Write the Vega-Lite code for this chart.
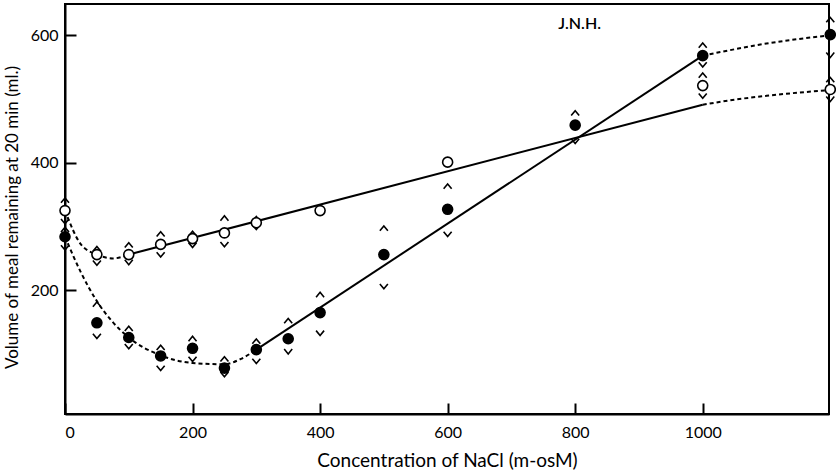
{
  "$schema": "https://vega.github.io/schema/vega-lite/v6.json",
  "width": 764,
  "height": 410,
  "autosize": "none",
  "padding": {"left": 65, "top": 4, "right": 7, "bottom": 57},
  "background": "white",
  "config": {
    "view": {"stroke": "black", "strokeWidth": 2},
    "font": "Lato",
    "axis": {
      "grid": false,
      "domainColor": "black",
      "domainWidth": 2,
      "tickColor": "black",
      "tickWidth": 2,
      "tickSize": -11,
      "labelColor": "black",
      "labelFont": "Lato",
      "labelFontSize": 16,
      "titleColor": "black",
      "titleFont": "Lato",
      "titleFontSize": 18,
      "titleFontWeight": "normal"
    }
  },
  "datasets": {
    "points": [
      {"series": "open", "x": 0, "y": 325, "hi": 341, "lo": 308},
      {"series": "open", "x": 50, "y": 256, "hi": 265, "lo": 243},
      {"series": "open", "x": 100, "y": 256, "hi": 271, "lo": 244},
      {"series": "open", "x": 150, "y": 272, "hi": 288, "lo": 256},
      {"series": "open", "x": 200, "y": 281, "hi": 289, "lo": 271},
      {"series": "open", "x": 250, "y": 290, "hi": 313, "lo": 272},
      {"series": "open", "x": 300, "y": 306, "hi": 312, "lo": 299},
      {"series": "open", "x": 400, "y": 325, "hi": null, "lo": null},
      {"series": "open", "x": 600, "y": 401, "hi": null, "lo": null},
      {"series": "open", "x": 1000, "y": 521, "hi": 537, "lo": 505},
      {"series": "open", "x": 1200, "y": 515, "hi": 530, "lo": 500},
      {"series": "filled", "x": 0, "y": 284, "hi": 295, "lo": 267},
      {"series": "filled", "x": 50, "y": 149, "hi": 178, "lo": 128},
      {"series": "filled", "x": 100, "y": 126, "hi": 140, "lo": 112},
      {"series": "filled", "x": 150, "y": 97, "hi": 110, "lo": 78},
      {"series": "filled", "x": 200, "y": 109, "hi": 124, "lo": 92},
      {"series": "filled", "x": 250, "y": 78, "hi": 92, "lo": 68},
      {"series": "filled", "x": 300, "y": 107, "hi": 120, "lo": 89},
      {"series": "filled", "x": 350, "y": 124, "hi": 152, "lo": 104},
      {"series": "filled", "x": 400, "y": 165, "hi": 193, "lo": 133},
      {"series": "filled", "x": 500, "y": 256, "hi": 297, "lo": 206},
      {"series": "filled", "x": 600, "y": 327, "hi": 363, "lo": 288},
      {"series": "filled", "x": 800, "y": 459, "hi": 478, "lo": 434},
      {"series": "filled", "x": 1000, "y": 568, "hi": 584, "lo": 554},
      {"series": "filled", "x": 1200, "y": 601, "hi": 624, "lo": 569}
    ],
    "solid": [
      {"seg": "open", "x": 100, "y": 256},
      {"seg": "open", "x": 1000, "y": 491},
      {"seg": "filled", "x": 300, "y": 107},
      {"seg": "filled", "x": 1000, "y": 568}
    ],
    "dashed": [
      {"seg": "openA", "x": 0, "y": 325},
      {"seg": "openA", "x": 25, "y": 272},
      {"seg": "openA", "x": 50, "y": 256},
      {"seg": "openA", "x": 75, "y": 250},
      {"seg": "openA", "x": 100, "y": 256},
      {"seg": "openB", "x": 1000, "y": 491},
      {"seg": "openB", "x": 1050, "y": 499},
      {"seg": "openB", "x": 1100, "y": 505},
      {"seg": "openB", "x": 1150, "y": 510},
      {"seg": "openB", "x": 1200, "y": 514},
      {"seg": "filledA", "x": 0, "y": 284},
      {"seg": "filledA", "x": 25, "y": 228},
      {"seg": "filledA", "x": 50, "y": 183},
      {"seg": "filledA", "x": 75, "y": 150},
      {"seg": "filledA", "x": 100, "y": 126},
      {"seg": "filledA", "x": 150, "y": 98},
      {"seg": "filledA", "x": 200, "y": 86},
      {"seg": "filledA", "x": 250, "y": 84},
      {"seg": "filledA", "x": 275, "y": 92},
      {"seg": "filledA", "x": 300, "y": 107},
      {"seg": "filledB", "x": 1000, "y": 568},
      {"seg": "filledB", "x": 1050, "y": 578},
      {"seg": "filledB", "x": 1100, "y": 587},
      {"seg": "filledB", "x": 1150, "y": 594},
      {"seg": "filledB", "x": 1200, "y": 600}
    ],
    "notes": [
      {"label": "J.N.H.", "x": 807, "y": 617}
    ]
  },
  "encoding": {
    "x": {
      "field": "x",
      "type": "quantitative",
      "scale": {"domain": [0, 1198], "nice": false, "zero": false},
      "axis": {
        "values": [0, 200, 400, 600, 800, 1000],
        "format": "d",
        "title": "Concentration of NaCl (m-osM)",
        "titleFontSize": 19,
        "labelPadding": 21,
        "titleY": 46,
        "titleBaseline": "middle"
      }
    }
  },
  "layer": [
    {
      "data": {"name": "solid"},
      "mark": {"type": "line", "color": "black", "strokeWidth": 2},
      "encoding": {
        "y": {
          "field": "y",
          "type": "quantitative",
          "scale": {"domain": [6, 649], "nice": false, "zero": false},
          "axis": {
            "values": [200, 400, 600],
            "title": "Volume of meal remaining at 20 min (ml.)",
            "titleFontSize": 17,
            "labelPadding": 18,
            "titleX": -53,
            "titleY": 213,
            "titleBaseline": "middle",
            "titleAngle": -90
          }
        },
        "detail": {"field": "seg"}
      }
    },
    {
      "data": {"name": "dashed"},
      "mark": {"type": "line", "color": "black", "strokeWidth": 2, "strokeDash": [4, 3], "interpolate": "monotone"},
      "encoding": {
        "y": {"field": "y", "type": "quantitative"},
        "detail": {"field": "seg"}
      }
    },
    {
      "data": {"name": "points"},
      "mark": {"type": "point", "shape": "M-1,0.6L0,-0.6L1,0.6", "filled": false, "stroke": "black", "strokeWidth": 1.6, "size": 64, "opacity": 1},
      "encoding": {"y": {"field": "hi", "type": "quantitative"}}
    },
    {
      "data": {"name": "points"},
      "mark": {"type": "point", "shape": "M-1,-0.6L0,0.6L1,-0.6", "filled": false, "stroke": "black", "strokeWidth": 1.6, "size": 64, "opacity": 1},
      "encoding": {"y": {"field": "lo", "type": "quantitative"}}
    },
    {
      "data": {"name": "points"},
      "mark": {"type": "point", "shape": "circle", "stroke": "black", "strokeWidth": 1.6, "size": 100, "opacity": 1},
      "encoding": {
        "y": {"field": "y", "type": "quantitative"},
        "fill": {
          "field": "series",
          "type": "nominal",
          "scale": {"domain": ["filled", "open"], "range": ["black", "white"]},
          "legend": null
        }
      }
    },
    {
      "data": {"name": "notes"},
      "mark": {"type": "text", "font": "Lato", "fontSize": 16, "fontWeight": 600, "color": "black"},
      "encoding": {
        "y": {"field": "y", "type": "quantitative"},
        "text": {"field": "label"}
      }
    }
  ]
}
